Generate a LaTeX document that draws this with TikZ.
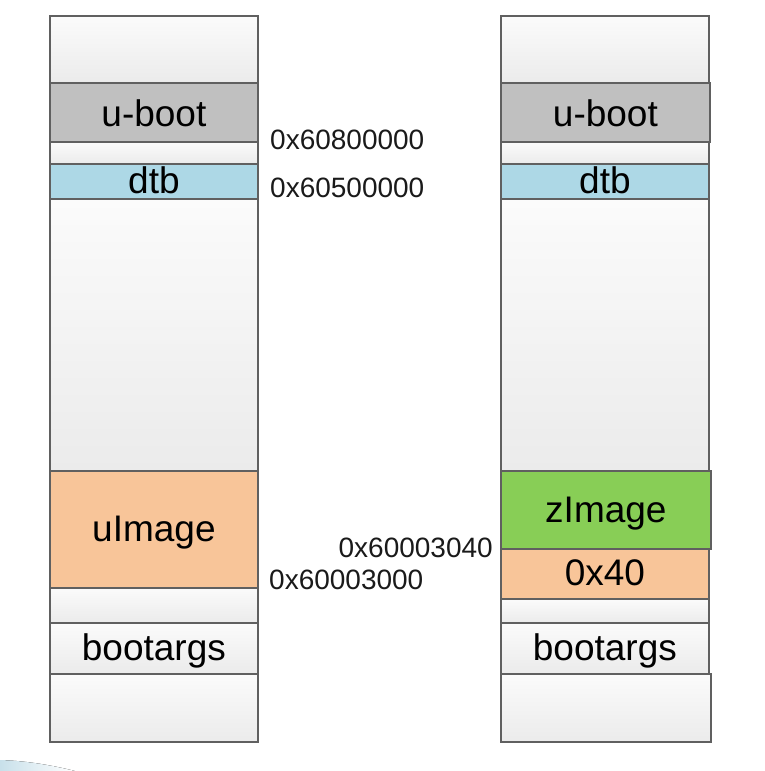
\documentclass[tikz,border=0pt]{standalone}
\usepackage{fontspec}
\setmainfont{Liberation Sans}
\definecolor{bordergray}{HTML}{606060}
\definecolor{blanktop}{HTML}{FBFBFB}
\definecolor{blanktopb}{HTML}{F9F9F9}
\definecolor{blankbot}{HTML}{EBEBEB}
\definecolor{ubootgray}{HTML}{C0C0C0}
\definecolor{dtbblue}{HTML}{ADD8E6}
\definecolor{peach}{HTML}{F8C599}
\definecolor{zgreen}{HTML}{88CE56}
\definecolor{addrgray}{HTML}{1A1A1A}
\definecolor{swoosh}{HTML}{C8E0EA}
\begin{document}
\begin{tikzpicture}[x=1pt,y=-1pt,
  cell/.style={draw=bordergray, line width=1.8pt, anchor=north west, inner sep=0pt, minimum width=208pt},
  blank/.style={cell, top color=blanktop, bottom color=blankbot},
  lbl/.style={font=\fontsize{37}{42}\selectfont, anchor=base, inner sep=0pt},
  addr/.style={font=\fontsize{28}{32}\selectfont, text=addrgray, inner sep=0pt}]
\useasboundingbox (0,0) rectangle (765,771);
\fill[left color=swoosh, right color=white] (0,760) .. controls (30,761) and (55,766) .. (75,771) -- (0,771) -- cycle;

% left column
\node[blank, minimum height=67pt] (l0) at (49,15) {};
\node[cell, fill=ubootgray, minimum height=59pt] (lub) at (49,82) {};
\node[blank, minimum height=22pt] (l1) at (49,141) {};
\node[cell, fill=dtbblue, minimum height=35pt] (ldtb) at (49,163) {};
\node[blank, minimum height=272pt] (l2) at (49,198) {};
\node[cell, fill=peach, minimum height=117pt] (luim) at (49,470) {};
\node[blank, minimum height=35pt] (l3) at (49,587) {};
\node[blank, minimum height=51pt] (lba) at (49,622) {};
\node[blank, minimum height=68pt] (l4) at (49,673) {};

\node[lbl] (lubt) at ([yshift=-14pt]lub.center) {u-boot};
\node[lbl] (ldtbt) at ([yshift=-12.5pt]ldtb.center) {dtb};
\node[lbl] (luimt) at ([yshift=-12.5pt]luim.center) {uImage};
\node[lbl] (lbat) at ([yshift=-12pt]lba.center) {bootargs};

% right column
\node[blank, minimum height=67pt] (r0) at (500,15) {};
\node[cell, fill=ubootgray, minimum height=59pt, minimum width=209pt] (rub) at (500,82) {};
\node[blank, minimum height=22pt] (r1) at (500,141) {};
\node[cell, fill=dtbblue, minimum height=35pt] (rdtb) at (500,163) {};
\node[blank, minimum height=272pt] (r2) at (500,198) {};
\node[cell, fill=zgreen, minimum height=78pt, minimum width=210pt] (rzim) at (500,470) {};
\node[cell, fill=peach, minimum height=50pt] (r40) at (500,548) {};
\node[blank, minimum height=24pt] (r3) at (500,598) {};
\node[blank, minimum height=51pt] (rba) at (500,622) {};
\node[blank, minimum height=68pt, minimum width=210pt] (r4) at (500,673) {};

\node[lbl] (rubt) at ([yshift=-14pt]rub.center) {u-boot};
\node[lbl] (rdtbt) at ([yshift=-12.5pt]rdtb.center) {dtb};
\node[lbl] (rzimt) at ([yshift=-13pt]rzim.center) {zImage};
\node[lbl] (r40t) at ([yshift=-12pt]r40.center) {0x40};
\node[lbl] (rbat) at ([yshift=-12pt]rba.center) {bootargs};

% addresses
\node[addr, anchor=base west] (a1) at (270,149) {0x60800000};
\node[addr, anchor=base west] (a2) at (270,197) {0x60500000};
\node[addr, anchor=base east] (a3) at (493,557) {0x60003040};
\node[addr, anchor=base west] (a4) at (269,589) {0x60003000};
\end{tikzpicture}
\end{document}
